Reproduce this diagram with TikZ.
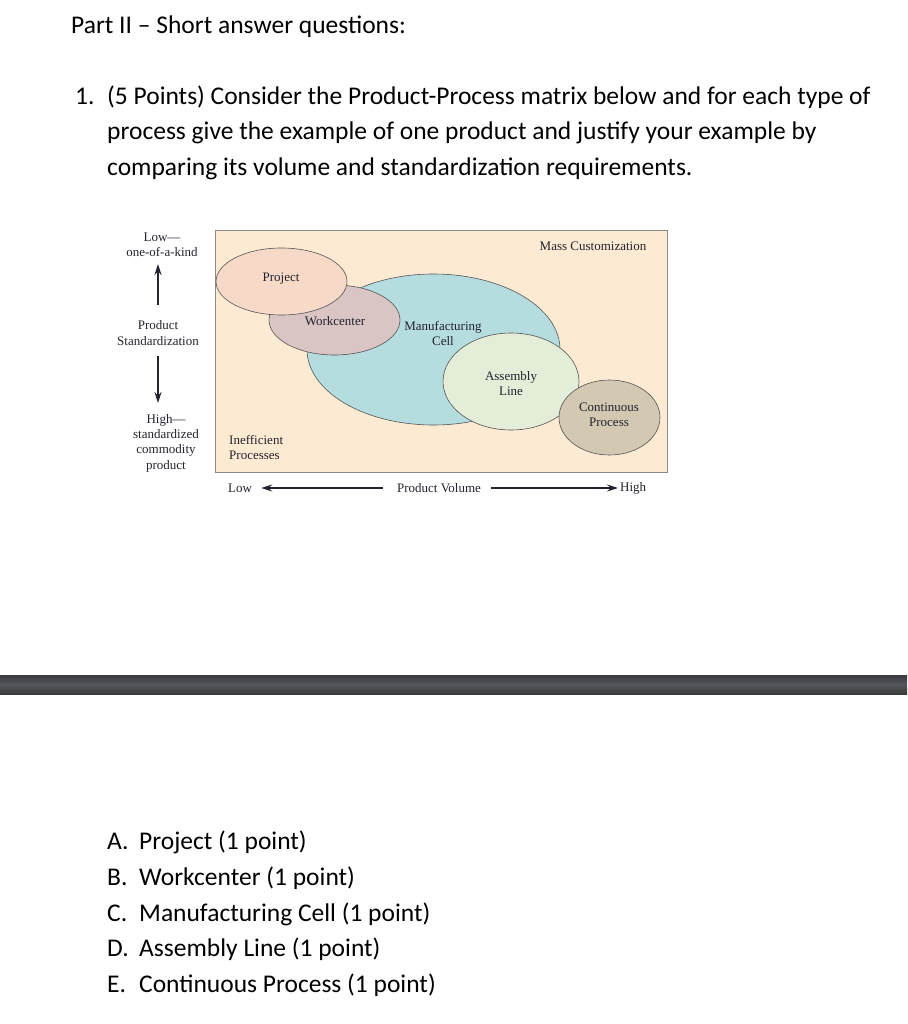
\documentclass[tikz,border=0pt]{standalone}
\usepackage{fontspec}
\setmainfont{Carlito}
\newfontfamily\tms{Liberation Serif}
\usetikzlibrary{arrows.meta}
\definecolor{boxfill}{HTML}{FCEBD2}
\definecolor{boxline}{HTML}{8A8A8A}
\definecolor{projfill}{HTML}{F7D9C7}
\definecolor{workfill}{HTML}{DAC5C5}
\definecolor{cellfill}{HTML}{B5DCDF}
\definecolor{asmfill}{HTML}{E3EDD8}
\definecolor{contfill}{HTML}{D3C8B2}
\definecolor{ellline}{HTML}{555555}
\definecolor{lbl}{HTML}{22232E}
\definecolor{bartop}{HTML}{3A3B3E}
\definecolor{barmid}{HTML}{53565A}
\begin{document}
\begin{tikzpicture}[x=1pt,y=-1pt,
  qtext/.style={font=\fontsize{25.5}{30}\selectfont, inner sep=0pt, anchor=base west},
  dlabel/.style={font=\tms\fontsize{13}{15.3}\selectfont, text=lbl, align=center, inner sep=0pt},
  proc/.style={draw=ellline, line width=0.6pt},
  axisarrow/.style={-{Stealth[length=11pt,width=7pt]}, line width=1.3pt, lbl}
]
\useasboundingbox (0,0) rectangle (907,1024);
% header text
\node[qtext] (part) at (71,34) {Part II – Short answer questions:};
\node[qtext] (num) at (75,104.5) {1.};
\node[qtext] (q1) at (107,104.5) {(5 Points) Consider the Product-Process matrix below and for each type of};
\node[qtext] (q2) at (107,140) {process give the example of one product and justify your example by};
\node[qtext] (q3) at (107,175.5) {comparing its volume and standardization requirements.};
% matrix box
\node[draw=boxline, fill=boxfill, line width=0.8pt, minimum width=452pt, minimum height=242pt, inner sep=0pt] (box) at (441,351) {};
% ellipses
\fill[cellfill] (433.5,349.5) ellipse [x radius=126.5, y radius=75.5];
\draw[proc] (433.5,349.5) ellipse [x radius=126.5, y radius=75.5];
\filldraw[proc, fill=workfill] (334.5,320) ellipse [x radius=65.5, y radius=35];
\filldraw[proc, fill=projfill] (281.5,281.5) ellipse [x radius=65.5, y radius=33.5];
\filldraw[proc, fill=asmfill] (511,381.5) ellipse [x radius=68, y radius=48.5];
\filldraw[proc, fill=contfill] (609.5,417.5) ellipse [x radius=50.5, y radius=37.5];
% labels inside
\node[dlabel] (mass) at (593,246) {Mass Customization};
\node[dlabel] (proj) at (281,279) {Project};
\node[dlabel] (work) at (335,321) {Workcenter};
\node[dlabel] (cell) at (443,333.5) {Manufacturing\\Cell};
\node[dlabel] (asm) at (511,383.5) {Assembly\\Line};
\node[dlabel] (cont) at (609,415) {Continuous\\Process};
\node[dlabel, align=left, anchor=west] (ineff) at (229,447.5) {Inefficient\\Processes};
% left axis
\node[dlabel] (low) at (162,244.5) {Low—\\one-of-a-kind};
\node[dlabel] (ps) at (158,333) {Product\\Standardization};
\node[dlabel] (high) at (166,443) {High—\\standardized\\commodity\\product};
\coordinate (upend) at (158,264);
\coordinate (downend) at (158,403);
\draw[axisarrow, shorten <=16pt] (ps.north) -- (upend);
\draw[axisarrow, shorten <=11pt] (ps.south) -- (downend);
% bottom axis
\node[dlabel, anchor=west] (vlow) at (228,488) {Low};
\node[dlabel] (pv) at (439,488) {Product Volume};
\node[dlabel, anchor=west] (vhigh) at (620,488) {High};
\draw[axisarrow, shorten <=14pt, shorten >=9pt] (pv.west) -- (vlow.east);
\draw[axisarrow, shorten <=10pt, shorten >=2pt] (pv.east) -- (vhigh.west);
% separator bar
\shade[top color=bartop, bottom color=bartop, middle color=barmid] (0,675) rectangle (907,694);
% list
\node[qtext] (la) at (107,849.5) {A.};
\node[qtext] (ta) at (139,849.5) {Project (1 point)};
\node[qtext] (lb) at (107,885.5) {B.};
\node[qtext] (tb) at (139,885.5) {Workcenter (1 point)};
\node[qtext] (lc) at (107,921) {C.};
\node[qtext] (tc) at (139,921) {Manufacturing Cell (1 point)};
\node[qtext] (ld) at (107,956.5) {D.};
\node[qtext] (td) at (139,956.5) {Assembly Line (1 point)};
\node[qtext] (le) at (107,992.5) {E.};
\node[qtext] (te) at (139,992.5) {Continuous Process (1 point)};
\end{tikzpicture}
\end{document}
